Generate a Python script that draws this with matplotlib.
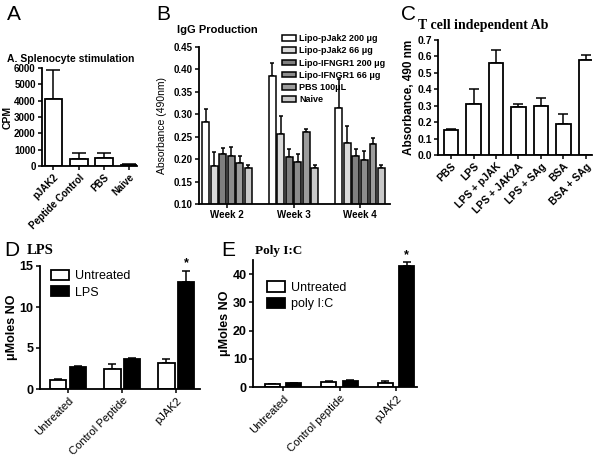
import numpy as np
import matplotlib.pyplot as plt

plt.rcParams['font.family'] = ['Liberation Sans', 'DejaVu Sans']

# Panel A - splenocyte stimulation
a_labels = ['pJAK2', 'Peptide Control', 'PBS', 'Naive']
a_vals = [4100, 400, 500, 50]
a_err = [1800, 400, 300, 50]

# Panel B - IgG production
b_weeks = ['Week 2', 'Week 3', 'Week 4']
b_series = ['Lipo-pJak2 200 \u03bcg', 'Lipo-pJak2 66 \u03bcg', 'Lipo-IFNGR1 200 \u03bcg',
            'Lipo-IFNGR1 66 \u03bcg', 'PBS 100\u03bcL', 'Naive']
b_vals = [[0.282, 0.386, 0.314],
          [0.185, 0.257, 0.236],
          [0.212, 0.205, 0.208],
          [0.207, 0.194, 0.199],
          [0.192, 0.261, 0.234],
          [0.181, 0.181, 0.181]]
b_err = [[0.030, 0.028, 0.064],
         [0.031, 0.040, 0.039],
         [0.013, 0.018, 0.014],
         [0.021, 0.018, 0.019],
         [0.015, 0.007, 0.014],
         [0.005, 0.005, 0.005]]
b_colors = ['white', '#d9d9d9', '#7f7f7f', '#8c8c8c', '#9c9c9c', '#c8c8c8']

# Panel C - T cell independent Ab
c_labels = ['PBS', 'LPS', 'LPS + pJAK', 'LPS + JAK2A', 'LPS + SAg', 'BSA', 'BSA + SAg']
c_vals = [0.15, 0.31, 0.56, 0.29, 0.30, 0.19, 0.58]
c_err = [0.01, 0.09, 0.08, 0.02, 0.05, 0.06, 0.03]

# Panel D - LPS
d_groups = ['Untreated', 'Control Peptide', 'pJAK2']
d_untr = [1.1, 2.4, 3.2]
d_untr_err = [0.1, 0.6, 0.4]
d_lps = [2.7, 3.7, 13.0]
d_lps_err = [0.1, 0.1, 1.4]

# Panel E - Poly I:C
e_groups = ['Untreated', 'Control peptide', 'pJAK2']
e_untr = [1.0, 1.8, 1.5]
e_untr_err = [0.2, 0.2, 0.7]
e_pic = [1.3, 2.3, 43.0]
e_pic_err = [0.1, 0.1, 1.3]

W, H = 602, 459
fig = plt.figure(figsize=(W / 100, H / 100), dpi=100)


def box(l, t, r, b):
    return [l / W, 1 - b / H, (r - l) / W, (b - t) / H]


def prism(ax, fs=7, bold=True):
    for s in ['top', 'right']:
        ax.spines[s].set_visible(False)
    for s in ['left', 'bottom']:
        ax.spines[s].set_linewidth(1.3)
    ax.tick_params(width=1.1, length=3, labelsize=fs, pad=1.5)
    if bold:
        for t in ax.get_yticklabels():
            t.set_fontweight('bold')


def upbars(ax, x, y, e, cap=3):
    ax.errorbar(x, y, yerr=[np.zeros(len(e)), e], fmt='none', ecolor='black',
                elinewidth=1.1, capsize=cap, capthick=1.1, zorder=1)


# ---- A
axA = fig.add_axes(box(42, 68, 137, 166))
xa = np.arange(len(a_vals))
axA.bar(xa, a_vals, 0.7, color='white', edgecolor='black', linewidth=1.3, zorder=2)
upbars(axA, xa, a_vals, a_err, cap=5)
axA.set_ylim(0, 6000)
axA.set_xlim(-0.45, 3.3)
axA.set_yticks(range(0, 6001, 1000))
axA.set_xticks(xa)
axA.set_xticklabels(a_labels, rotation=45, ha='right', rotation_mode='anchor',
                    fontweight='bold', fontsize=7.5)
prism(axA, fs=7)
axA.set_ylabel('CPM', fontsize=7.5, fontweight='bold')
axA.yaxis.set_label_coords(-0.31, 0.5)
fig.text(7 / W, 1 - 59 / H, 'A. Splenocyte stimulation', fontsize=7.5,
         fontweight='bold', va='center')
fig.text(7 / W, 1 - 15 / H, 'A', fontsize=15, va='center')

# ---- B
axB = fig.add_axes(box(199, 47, 390, 204))
xb = np.arange(len(b_weeks))
pitch = 0.128
for i in range(len(b_series)):
    xs = xb + (i - 2.5) * pitch
    axB.bar(xs, b_vals[i], 0.1, color=b_colors[i], edgecolor='black', linewidth=1.1,
            zorder=2, label=b_series[i])
    upbars(axB, xs, b_vals[i], b_err[i], cap=1.5)
axB.set_ylim(0.10, 0.45)
axB.set_xlim(-0.42, 2.45)
axB.set_yticks(np.arange(0.10, 0.451, 0.05))
axB.set_yticklabels(['%.2f' % v for v in np.arange(0.10, 0.451, 0.05)])
axB.set_xticks(xb)
axB.set_xticklabels(b_weeks, fontweight='bold', fontsize=7.5)
prism(axB, fs=7)
axB.set_ylabel('Absorbance (490nm)', fontsize=7.5)
axB.yaxis.set_label_coords(-0.17, 0.5)
axB.legend(loc='upper left', bbox_to_anchor=(0.41, 1.11), frameon=False,
           borderpad=0, handlelength=1.6, handleheight=0.6, handletextpad=0.3,
           labelspacing=0.35, prop={'size': 6.5, 'weight': 'bold'})
fig.text(177 / W, 1 - 30 / H, 'IgG Production', fontsize=8, fontweight='bold', va='center')
fig.text(156 / W, 1 - 15 / H, 'B', fontsize=15, va='center')

# ---- C
axC = fig.add_axes(box(438, 40, 592, 155))
xc = np.arange(len(c_vals))
axC.bar(xc, c_vals, 0.65, color='white', edgecolor='black', linewidth=1.3, zorder=2)
upbars(axC, xc, c_vals, c_err, cap=3.5)
axC.set_ylim(0, 0.7)
axC.set_xlim(-0.58, 6.27)
axC.set_yticks(np.arange(0, 0.71, 0.1))
axC.set_yticklabels(['%.1f' % v for v in np.arange(0, 0.71, 0.1)])
axC.set_xticks(xc)
axC.set_xticklabels(c_labels, rotation=45, ha='right', rotation_mode='anchor',
                    fontweight='bold')
prism(axC, fs=7.5)
axC.set_ylabel('Absorbance, 490 nm', fontsize=8.5, fontweight='bold')
axC.yaxis.set_label_coords(-0.15, 0.5)
fig.text(418 / W, 1 - 26 / H, 'T cell independent Ab', fontsize=10, fontweight='bold',
         family='Liberation Serif', va='center')
fig.text(401 / W, 1 - 14 / H, 'C', fontsize=15, va='center')

# ---- D
axD = fig.add_axes(box(40, 266, 200, 389))
xd = np.arange(len(d_groups))
off = 0.18
axD.bar(xd - off, d_untr, 0.3, color='white', edgecolor='black', linewidth=1.3,
        zorder=2, label='Untreated')
axD.bar(xd + off, d_lps, 0.3, color='black', edgecolor='black', linewidth=1.3,
        zorder=2, label='LPS')
upbars(axD, xd - off, d_untr, d_untr_err, cap=3)
upbars(axD, xd + off, d_lps, d_lps_err, cap=3)
axD.text(xd[2] + off, d_lps[2] + d_lps_err[2] + 0.2, '*', ha='center', va='bottom',
         fontsize=9, fontweight='bold')
axD.set_ylim(0, 15)
axD.set_xlim(-0.52, 2.44)
axD.set_yticks([0, 5, 10, 15])
axD.set_xticks(xd)
axD.set_xticklabels(d_groups, rotation=45, ha='right', rotation_mode='anchor')
prism(axD, fs=9)
axD.tick_params(axis='x', labelsize=8)
axD.set_ylabel('\u03bcMoles NO', fontsize=9, fontweight='bold')
axD.yaxis.set_label_coords(-0.135, 0.5)
axD.legend(loc='upper left', bbox_to_anchor=(0.03, 1.02), frameon=False,
           handlelength=1.4, handleheight=0.9, handletextpad=0.5, labelspacing=0.3,
           borderpad=0, prop={'size': 9})
fig.text(27 / W, 1 - 251 / H, 'LPS', fontsize=10.5, fontweight='bold',
         family='Liberation Serif', va='center')
fig.text(4 / W, 1 - 250 / H, 'D', fontsize=15, va='center')

# ---- E
axE = fig.add_axes(box(253, 260, 417, 387))
xe = np.arange(len(e_groups))
off = 0.19
axE.bar(xe - off, e_untr, 0.27, color='white', edgecolor='black', linewidth=1.3,
        zorder=2, label='Untreated')
axE.bar(xe + off, e_pic, 0.27, color='black', edgecolor='black', linewidth=1.3,
        zorder=2, label='poly I:C')
upbars(axE, xe - off, e_untr, e_untr_err, cap=3)
upbars(axE, xe + off, e_pic, e_pic_err, cap=3)
axE.text(xe[2] + off, e_pic[2] + e_pic_err[2] + 0.3, '*', ha='center', va='bottom',
         fontsize=9, fontweight='bold')
axE.set_ylim(0, 45)
axE.set_xlim(-0.53, 2.37)
axE.set_yticks([0, 10, 20, 30, 40])
axE.set_xticks(xe)
axE.set_xticklabels(e_groups, rotation=45, ha='right', rotation_mode='anchor')
prism(axE, fs=9)
axE.tick_params(axis='x', labelsize=8)
axE.set_ylabel('\u03bcMoles NO', fontsize=9, fontweight='bold')
axE.yaxis.set_label_coords(-0.135, 0.5)
axE.legend(loc='upper left', bbox_to_anchor=(0.05, 0.88), frameon=False,
           handlelength=1.4, handleheight=0.9, handletextpad=0.5, labelspacing=0.3,
           borderpad=0, prop={'size': 9})
fig.text(255 / W, 1 - 251 / H, 'Poly I:C', fontsize=9.5, fontweight='bold',
         family='Liberation Serif', va='center')
fig.text(221 / W, 1 - 250 / H, 'E', fontsize=15, va='center')

fig.savefig('out.png', dpi=100)
